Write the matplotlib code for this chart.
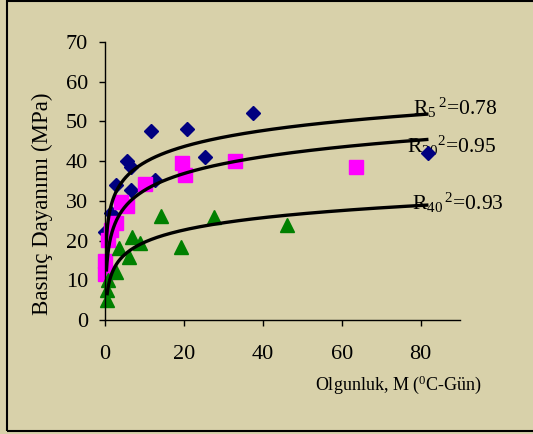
import numpy as np
import matplotlib
matplotlib.use("Agg")
import matplotlib.pyplot as plt
from matplotlib.patches import Rectangle

plt.rcParams['font.family'] = ['Liberation Serif', 'DejaVu Serif']
plt.rcParams['mathtext.fontset'] = 'custom'
plt.rcParams['mathtext.rm'] = 'Liberation Serif'
plt.rcParams['mathtext.it'] = 'Liberation Serif:italic'

# ---- data ----
x_r5 = [0.1, 1.6, 2.9, 5.5, 6.5, 6.6, 11.6, 12.8, 20.8, 25.3, 37.4, 81.9]
y_r5 = [22.2, 26.9, 34.0, 40.1, 38.5, 32.7, 47.6, 35.3, 48.1, 41.1, 52.1, 42.1]

x_r20 = [0.1, 0.1, 0.8, 1.6, 2.9, 4.0, 5.5, 10.1, 19.6, 20.2, 32.9, 63.7]
y_r20 = [11.6, 14.9, 20.2, 22.6, 24.4, 29.8, 28.8, 34.2, 39.6, 36.5, 40.1, 38.6]

x_r40 = [0.4, 0.4, 0.8, 2.9, 6.1, 3.6, 6.9, 8.8, 14.1, 19.2, 27.6, 46.1]
y_r40 = [5.0, 7.6, 10.1, 12.2, 15.9, 18.1, 21.0, 19.3, 26.3, 18.4, 25.9, 24.0]

# logarithmic trendlines  y = a*ln(x) + b
trend_a = [5.8, 6.1, 4.46]
trend_b = [26.3, 18.6, 9.3]
trend_xmin = [0.09, 0.35, 0.5]
trend_xmax = [82, 82, 82]
r2_labels = [r'$\mathregular{R_{5}\,{}^{2}}$=0.78',
             r'$\mathregular{R_{20}{}^{2}}$=0.95',
             r'$\mathregular{R_{40}\,{}^{2}}$=0.93']
label_pos = [(78.1, 51.6), (76.6, 42.1), (77.9, 27.7)]

xticks = [0, 20, 40, 60, 80]
yticks = [0, 10, 20, 30, 40, 50, 60, 70]

bg = '#D8D1AA'
W, H = 533, 434
fig = plt.figure(figsize=(W / 100, H / 100), dpi=100, facecolor=bg)
ax = fig.add_axes([105 / W, 1 - 320 / H, (460 - 105) / W, (320 - 42) / H])
ax.set_facecolor(bg)

ax.plot(x_r5, y_r5, linestyle='none', marker='D', markersize=6.8,
        color='#000080', clip_on=False, zorder=2)
ax.plot(x_r20, y_r20, linestyle='none', marker='s', markersize=10,
        color='#FF00FF', clip_on=False, zorder=2.1)
ax.plot(x_r40, y_r40, linestyle='none', marker='^', markersize=9.5,
        color='#008000', clip_on=False, zorder=2.2)

for a, b, x0, x1 in zip(trend_a, trend_b, trend_xmin, trend_xmax):
    xs = np.geomspace(x0, x1, 300)
    ax.plot(xs, a * np.log(xs) + b, color='black', lw=2.4, zorder=3,
            solid_capstyle='butt')

for txt, (tx, ty) in zip(r2_labels, label_pos):
    ax.text(tx, ty, txt, fontsize=15.5, ha='left', va='baseline', zorder=1.5)

ax.set_xlim(0, 90)
ax.set_ylim(0, 70)
ax.set_xticks(xticks)
ax.set_yticks(yticks)
for s in ['top', 'right']:
    ax.spines[s].set_visible(False)
for s in ['left', 'bottom']:
    ax.spines[s].set_linewidth(1.0)
ax.tick_params(direction='out', length=4.3, width=1, labelsize=16)
ax.tick_params(axis='x', pad=14)
ax.tick_params(axis='y', pad=8)

fig.text(398 / W, 1 - 385 / H, r'Olgunluk, M ($\mathregular{^{0}}$C-Gün)',
         fontsize=13, ha='center', va='center')
fig.text(42 / W, 1 - 204 / H, 'Basınç Dayanımı (MPa)', fontsize=16.5,
         rotation=90, ha='center', va='center')

fig.patches.append(Rectangle((7 / W, 3 / H), 1.2, 1 - 4 / H,
                             transform=fig.transFigure, fill=False,
                             edgecolor='black', lw=1.5))

fig.savefig('out.png', dpi=100, facecolor=bg)
